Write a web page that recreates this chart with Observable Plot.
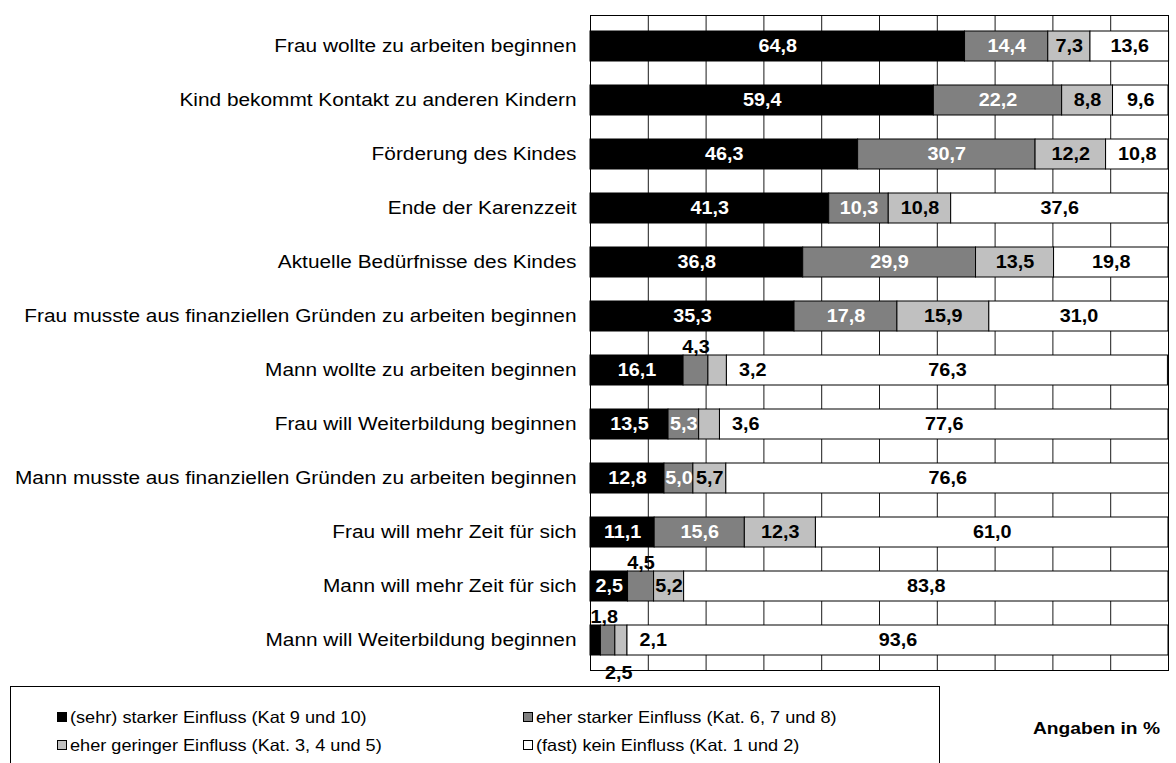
<!DOCTYPE html>
<html><head><meta charset="utf-8">
<script src="https://cdn.jsdelivr.net/npm/d3@7"></script>
<script src="https://cdn.jsdelivr.net/npm/@observablehq/plot@0.6"></script>
<style>
body{margin:0;background:#fff;font-family:"Liberation Sans",Arial,sans-serif;}
#wrap{position:relative;width:1176px;height:763px;overflow:hidden;}
#chart{position:absolute;left:0;top:0;}
#legend{position:absolute;left:10px;top:686px;width:930px;height:110px;border:1px solid #000;box-sizing:border-box;}
.item{position:absolute;font-size:16.5px;color:#000;white-space:nowrap;display:flex;align-items:center;height:20px;}
.sw{width:8px;height:8px;border:1px solid #000;margin-right:3px;flex:none;}
.lab{display:inline-block;transform:scaleX(1.1);transform-origin:left center;}
#unit{position:absolute;left:1033px;top:719px;font-weight:bold;font-size:17px;}
#unit span{display:inline-block;transform:scaleX(1.13);transform-origin:left center;}
</style></head>
<body>
<div id="wrap">
  <div id="chart"></div>
  <div id="legend"></div>
  <div id="unit"><span>Angaben in %</span></div>
</div>
<script>
const categories = [
  "Frau wollte zu arbeiten beginnen",
  "Kind bekommt Kontakt zu anderen Kindern",
  "Förderung des Kindes",
  "Ende der Karenzzeit",
  "Aktuelle Bedürfnisse des Kindes",
  "Frau musste aus finanziellen Gründen zu arbeiten beginnen",
  "Mann wollte zu arbeiten beginnen",
  "Frau will Weiterbildung beginnen",
  "Mann musste aus finanziellen Gründen zu arbeiten beginnen",
  "Frau will mehr Zeit für sich",
  "Mann will mehr Zeit für sich",
  "Mann will Weiterbildung beginnen"
];
const stark      = [64.8, 59.4, 46.3, 41.3, 36.8, 35.3, 16.1, 13.5, 12.8, 11.1, 6.5, 1.8];
const eherStark  = [14.4, 22.2, 30.7, 10.3, 29.9, 17.8, 4.3, 5.3, 5.0, 15.6, 4.5, 2.5];
const eherGering = [7.3, 8.8, 12.2, 10.8, 13.5, 15.9, 3.2, 3.6, 5.7, 12.3, 5.2, 2.1];
const kein       = [13.6, 9.6, 10.8, 37.6, 19.8, 31.0, 76.3, 77.6, 76.6, 61.0, 83.8, 93.6];
const seriesNames = [
  "(sehr) starker Einfluss (Kat 9 und 10)",
  "eher starker Einfluss (Kat. 6, 7 und 8)",
  "eher geringer Einfluss (Kat. 3, 4 und 5)",
  "(fast) kein Einfluss (Kat. 1 und 2)"
];
const seriesColors = ["#000000", "#808080", "#c0c0c0", "#ffffff"];
const labelColors  = ["#ffffff", "#ffffff", "#000000", "#000000"];
const gridTicks = [0, 10, 20, 30, 40, 50, 60, 70, 80, 90, 100];
// label printed in the original differs from the bar length for this one segment
const printedOverrides = [{category: "Mann will mehr Zeit für sich", series: 0, text: "2,5"}];

const seriesValues = [stark, eherStark, eherGering, kein];
const fmt = v => v.toFixed(1).replace(".", ",");

const table = [];
categories.forEach((c, i) => {
  let acc = 0;
  let blackAbove = false;
  seriesValues.forEach((vals, s) => {
    const v = vals[i];
    const x1 = acc, x2 = acc + v;
    acc = x2;
    const ov = printedOverrides.find(o => o.category === c && o.series === s);
    let place = "inside";
    if (s === 0 && v < 2) { place = "aboveStart"; blackAbove = true; }
    else if (s === 1 && v < 5) place = blackAbove ? "belowStart" : "above";
    else if (s === 2 && v < 4) place = "right";
    table.push({category: c, series: seriesNames[s], s, value: v, x1, x2, mid: (x1 + x2) / 2,
      text: ov ? ov.text : fmt(v), place});
  });
});

const textBase = {y: "category", text: "text", fontSize: 17.5, fontWeight: "bold"};

const chart = Plot.plot({
  width: 1176,
  height: 685,
  marginLeft: 590,
  marginRight: 8,
  marginTop: 15,
  marginBottom: 15,
  style: {fontFamily: "'Liberation Sans', Arial, sans-serif", background: "#fff"},
  x: {domain: [0, 100], axis: null},
  y: {domain: categories, paddingInner: 0.45, paddingOuter: 0.225, axis: null},
  color: {domain: seriesNames, range: seriesColors},
  marks: [
    Plot.ruleX(gridTicks, {stroke: "#1a1a1a", strokeWidth: 1}),
    Plot.barX(table, {x1: "x1", x2: "x2", y: "category", fill: "series", stroke: "#000", strokeWidth: 1}),
    Plot.frame({stroke: "#000", strokeWidth: 1}),
    Plot.axisY({tickSize: 0, tickPadding: 14, fontSize: 17.5, label: null, fill: "#000"}),
    Plot.text(table.filter(d => d.place === "inside" && labelColors[d.s] === "#ffffff"),
      {...textBase, x: "mid", fill: "#ffffff"}),
    Plot.text(table.filter(d => d.place === "inside" && labelColors[d.s] === "#000000"),
      {...textBase, x: "mid", fill: "#000000"}),
    Plot.text(table.filter(d => d.place === "above"),
      {...textBase, x: "mid", dy: -23, fill: "#000"}),
    Plot.text(table.filter(d => d.place === "aboveStart"),
      {...textBase, x: "x1", dy: -23, textAnchor: "start", fill: "#000"}),
    Plot.text(table.filter(d => d.place === "belowStart"),
      {...textBase, x: "x1", dx: 4, dy: 33, textAnchor: "start", fill: "#000"}),
    Plot.text(table.filter(d => d.place === "right"),
      {...textBase, x: "x2", dx: 12, textAnchor: "start", fill: "#000"})
  ]
});
document.getElementById("chart").appendChild(chart);

// horizontal stretch of text, as in the original
chart.querySelectorAll("text").forEach(t => {
  const isAxis = t.closest('[aria-label="y-axis tick label"]') !== null;
  const k = isAxis ? 1.19 : 1.13;
  const len = t.getComputedTextLength();
  if (len > 0) {
    t.setAttribute("textLength", (len * k).toFixed(1));
    t.setAttribute("lengthAdjust", "spacingAndGlyphs");
  }
});

// legend
const legend = document.getElementById("legend");
const legendPos = [[46, 20], [512, 20], [46, 48], [512, 48]];
seriesNames.forEach((name, i) => {
  const it = document.createElement("div");
  it.className = "item";
  it.style.left = legendPos[i][0] + "px";
  it.style.top = legendPos[i][1] + "px";
  const sw = document.createElement("span");
  sw.className = "sw";
  sw.style.background = seriesColors[i];
  const lab = document.createElement("span");
  lab.className = "lab";
  lab.textContent = name;
  it.appendChild(sw);
  it.appendChild(lab);
  legend.appendChild(it);
});
</script>
</body></html>
